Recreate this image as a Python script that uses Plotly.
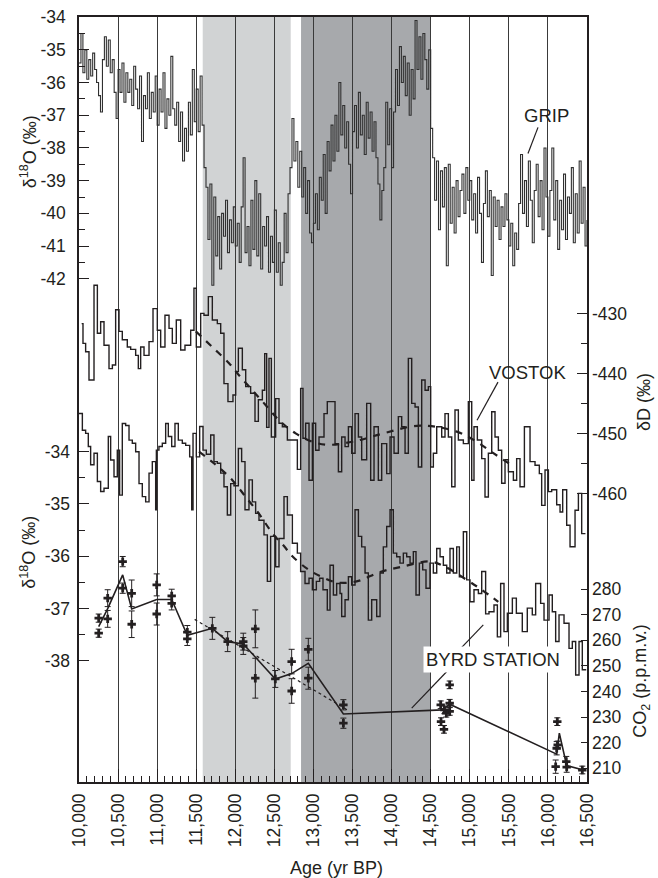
import plotly.graph_objects as go

FONT = "Liberation Sans, Arial, Helvetica, sans-serif"
INK = "#231f20"

# ---------------- data ----------------
# GRIP d18O (permil), 25-yr steps
grip_age = list(range(10000, 16501, 25))
grip_d18o = [
    -35.4, -34.5, -35.7, -35.0, -35.9, -35.3, -35.8, -35.1, -35.6, -36.0, -36.4, -36.9, -35.3, -34.6, -35.5, -34.7, -35.7, -35.3, -36.3, -37.1,
    -35.6, -36.3, -35.4, -36.6, -35.7, -36.3, -35.9, -36.7, -35.5, -36.2, -36.8, -35.8, -37.8, -36.4, -36.8, -35.7, -37.1, -36.3, -36.9, -35.8,
    -37.3, -36.2, -36.9, -35.7, -37.4, -36.5, -37.0, -35.2, -36.8, -37.3, -36.6, -37.8, -36.9, -38.4, -37.4, -38.1, -36.6, -37.6, -35.6, -37.2,
    -36.2, -37.5, -35.8, -37.3, -38.6, -39.2, -40.8, -39.1, -42.2, -39.5, -41.3, -40.1, -41.7, -40.0, -40.7, -39.6, -41.2, -40.2, -40.9, -39.8,
    -41.0, -40.3, -41.5, -39.8, -38.3, -41.2, -40.4, -41.6, -39.6, -41.1, -39.0, -41.3, -39.4, -41.7, -40.4, -41.0, -40.1, -41.8, -40.7, -41.5,
    -39.9, -41.8, -40.9, -42.2, -41.5, -40.0, -41.2, -39.4, -38.6, -37.1, -38.4, -37.8, -39.2, -38.1, -39.5, -38.6, -40.0, -39.0, -40.6, -40.9,
    -40.3, -39.4, -40.5, -38.9, -39.6, -38.2, -40.0, -37.8, -38.7, -37.3, -38.4, -37.0, -38.1, -36.0, -37.6, -36.7, -38.0, -37.2, -38.5, -39.4,
    -37.5, -36.7, -38.0, -36.3, -37.6, -37.0, -38.2, -36.6, -37.7, -36.9, -38.1, -37.2, -38.3, -39.1, -40.2, -39.3, -38.6, -36.6, -37.9, -36.8,
    -38.6, -36.9, -35.6, -36.7, -34.9, -36.0, -35.2, -36.4, -35.4, -37.0, -35.6, -36.5, -34.1, -35.6, -34.6, -35.9, -34.5, -35.3, -36.2, -35.0,
    -37.4, -38.3, -39.6, -38.4, -40.5, -38.7, -39.8, -38.6, -41.6, -38.5, -40.3, -39.2, -40.6, -39.0, -40.1, -39.3, -38.8, -40.0, -38.6, -39.6,
    -39.0, -40.2, -39.4, -40.6, -38.9, -40.0, -41.5, -39.7, -38.7, -40.1, -39.3, -41.9, -39.5, -40.4, -39.6, -40.8, -39.8, -40.4, -39.4, -40.2,
    -41.0, -40.3, -41.6, -40.6, -41.1, -39.7, -38.2, -40.0, -39.0, -40.4, -38.4, -39.6, -40.9, -39.3, -38.5, -40.1, -39.0, -40.5, -38.0, -39.5,
    -40.7, -39.3, -38.0, -40.2, -39.0, -41.1, -39.6, -40.5, -38.8, -40.8, -39.5, -40.0, -38.6, -40.9, -39.4, -40.6, -38.4, -40.3, -39.2, -41.0, -40.2,
]

# Vostok dD (permil)
vostok_age = [10034, 10051, 10085, 10128, 10192, 10235, 10277, 10320, 10384, 10427,
              10469, 10512, 10554, 10618, 10661, 10725, 10759, 10789, 10832, 10896,
              10947, 11002, 11045, 11100, 11152, 11194, 11245, 11301, 11356, 11429,
              11471, 11501, 11557, 11599, 11655, 11706, 11770, 11813, 11855, 11906,
              11970, 12005, 12039, 12090, 12133, 12196, 12252, 12295, 12346, 12376,
              12401, 12431, 12461, 12516, 12559, 12602, 12666, 12794, 12836, 12866,
              12900, 12943, 12986, 13028, 13071, 13135, 13177, 13276, 13319, 13361,
              13404, 13447, 13489, 13532, 13575, 13617, 13681, 13732, 13775, 13830,
              13873, 13937, 13980, 14031, 14086, 14129, 14172, 14214, 14257, 14300,
              14342, 14385, 14428, 14470, 14500, 14534, 14577, 14641, 14683, 14726,
              14769, 14811, 14854, 14918, 14982, 15025, 15054, 15097, 15153, 15195,
              15238, 15281, 15323, 15366, 15408, 15451, 15494, 15558, 15600, 15643,
              15699, 15771, 15835, 15890, 15920, 15963, 16006, 16048, 16112, 16155,
              16189, 16240, 16283, 16347, 16390, 16432, 16480]
vostok_dD = [-431.7, -435.0, -436.4, -441.1, -425.3, -433.3, -431.4, -435.3, -439.2, -438.6,
             -429.4, -433.0, -434.4, -435.6, -436.0, -437.0, -439.2, -435.6, -437.0, -434.7,
             -429.2, -432.8, -435.6, -430.3, -432.5, -435.0, -431.1, -436.1, -435.3, -432.8,
             -425.8, -435.6, -430.0, -430.3, -427.2, -431.1, -431.7, -433.3, -441.7, -444.7,
             -443.6, -439.7, -435.8, -439.4, -442.2, -443.3, -448.0, -444.4, -442.8, -436.7,
             -449.0, -437.5, -450.6, -444.2, -448.3, -448.9, -451.1, -456.0, -442.5, -450.8,
             -448.3, -457.8, -448.3, -452.8, -450.6, -446.7, -444.7, -451.7, -456.4, -450.6,
             -452.2, -448.9, -453.3, -446.7, -450.6, -454.4, -445.0, -457.8, -448.9, -457.8,
             -451.7, -456.7, -450.6, -453.3, -447.2, -448.9, -453.3, -437.5, -445.0, -445.6,
             -455.6, -441.1, -442.8, -442.2, -455.6, -453.3, -448.9, -450.6, -446.7, -450.6,
             -458.9, -446.1, -451.1, -451.7, -444.7, -457.8, -448.9, -451.1, -454.2, -460.6,
             -453.3, -446.4, -450.6, -452.8, -458.3, -454.4, -456.4, -457.8, -454.2, -458.9,
             -448.9, -454.7, -455.3, -456.7, -462.0, -456.1, -459.7, -459.4, -461.9, -463.1,
             -459.4, -465.3, -468.9, -462.8, -460.0, -466.7, -466.7]
vostok_trend_age = [11495, 11705, 11920, 12047, 12218, 12390, 12560, 12772, 12985, 13212,
                    13596, 13894, 14363, 14833, 15089, 15302, 15500]
vostok_trend_dD = [-433.0, -435.6, -438.3, -440.3, -442.8, -445.3, -447.8, -450.0, -451.4, -451.9,
                   -451.1, -450.0, -448.7, -449.7, -451.4, -453.3, -455.0]

# Byrd Station d18O (permil)
byrd_age = [10000, 10043, 10085, 10119, 10149, 10192, 10235, 10277, 10320, 10375,
            10405, 10448, 10490, 10520, 10554, 10597, 10640, 10682, 10725, 10768,
            10810, 10853, 10896, 10938, 10981, 10990, 11023, 11066, 11109, 11143,
            11186, 11228, 11271, 11322, 11365, 11416, 11442, 11459, 11501, 11544,
            11587, 11629, 11685, 11727, 11770, 11813, 11855, 11898, 11941, 11983,
            12039, 12081, 12124, 12175, 12218, 12260, 12303, 12367, 12410, 12452,
            12516, 12559, 12623, 12666, 12730, 12794, 12836, 12892, 12943, 12986,
            13037, 13079, 13122, 13177, 13212, 13255, 13297, 13340, 13361, 13404,
            13447, 13489, 13532, 13575, 13617, 13660, 13702, 13745, 13809, 13852,
            13894, 13937, 13980, 14022, 14065, 14107, 14150, 14193, 14236, 14278,
            14312, 14355, 14398, 14440, 14491, 14534, 14577, 14620, 14662, 14705,
            14747, 14790, 14833, 14867, 14918, 14961, 15003, 15054, 15110, 15153,
            15203, 15246, 15310, 15353, 15395, 15438, 15481, 15545, 15596, 15672,
            15736, 15800, 15843, 15907, 15950, 16014, 16056, 16099, 16142, 16206,
            16270, 16312, 16355, 16398, 16440, 16490]
byrd_d18o = [-33.27, -33.59, -33.65, -33.90, -34.25, -34.03, -34.57, -34.76, -34.70, -33.71,
             -34.16, -34.48, -33.97, -34.83, -33.46, -33.50, -33.78, -33.84, -34.00, -34.61,
             -34.86, -34.96, -34.41, -34.19, -35.11, -33.97, -33.90, -33.84, -33.46, -33.71,
             -33.90, -33.46, -33.78, -33.84, -33.88, -34.10, -35.11, -33.65, -34.10, -33.52,
             -33.97, -34.05, -33.68, -34.19, -34.22, -34.41, -34.67, -35.21, -34.61, -34.65,
             -33.94, -34.19, -35.11, -34.54, -34.96, -35.18, -35.31, -35.59, -36.48, -35.62,
             -36.20, -35.66, -34.86, -35.21, -35.75, -35.94, -36.29, -36.52, -36.42, -36.64,
             -36.48, -36.42, -36.64, -37.03, -36.17, -36.74, -36.52, -36.71, -37.15, -36.83,
             -36.39, -36.55, -35.11, -35.62, -35.82, -36.32, -37.22, -36.83, -37.15, -36.32,
             -35.82, -35.43, -35.11, -35.94, -36.01, -36.13, -35.94, -36.01, -36.13, -35.91,
             -36.74, -36.13, -36.26, -36.61, -36.13, -36.32, -35.85, -36.01, -36.17, -36.32,
             -35.85, -36.32, -35.82, -36.39, -35.53, -36.45, -36.87, -36.64, -36.71, -36.29,
             -37.10, -37.06, -36.93, -37.54, -36.52, -37.44, -37.09, -36.80, -37.09, -37.44,
             -36.99, -37.12, -36.52, -36.90, -37.22, -36.74, -37.06, -37.63, -37.12, -37.28,
             -37.76, -37.63, -38.27, -37.63, -38.17, -38.17]
byrd_trend_age = [11535, 11750, 11960, 12130, 12300, 12475, 12620, 12730, 12940, 13115,
                  13300, 13553, 13852, 14130, 14491, 14683, 14960, 15153, 15365]
byrd_trend_d18o = [-34.00, -34.25, -34.54, -34.86, -35.18, -35.56, -35.80, -36.00, -36.26, -36.40,
                   -36.50, -36.48, -36.30, -36.20, -36.10, -36.20, -36.45, -36.64, -36.87]

# Byrd Station CO2 (p.p.m.v.)
co2_age = [10252, 10252, 10367, 10367, 10559, 10559, 10674, 10674, 10994, 10994,
           11186, 11186, 11386, 11386, 11706, 11902, 12102, 12102, 12256, 12256,
           12512, 12721, 12721, 12934, 12934, 13383, 13383, 14628, 14632, 14670,
           14675, 14700, 14743, 14743, 14743, 16099, 16112, 16120, 16125, 16235,
           16240, 16440]
co2_ppmv = [262.8, 268.7, 276.5, 268.4, 290.8, 280.4, 278.4, 266.3, 281.7, 270.3,
            277.4, 274.5, 263.2, 260.6, 264.7, 259.5, 259.5, 257.8, 264.5, 245.2,
            244.9, 251.7, 240.2, 256.5, 245.2, 234.8, 227.6, 234.8, 228.2, 225.2,
            232.8, 231.5, 235.4, 232.2, 242.6, 210.6, 217.8, 228.2, 219.1, 212.6,
            210.4, 209.3]
co2_err = [1.6, 1.6, 3.3, 3.3, 2.0, 2.0, 5.2, 5.2, 4.3, 4.3,
           2.6, 2.6, 2.6, 2.6, 4.3, 3.9, 3.3, 3.3, 7.4, 7.8,
           3.3, 4.8, 4.8, 4.3, 4.3, 2.0, 2.0, 1.5, 1.5, 1.5,
           1.5, 1.5, 1.5, 1.5, 1.5, 2.6, 2.6, 1.5, 1.5, 2.0,
           2.0, 1.5]
co2_mean_age = [10252, 10367, 10559, 10674, 10994, 11186, 11386, 11706, 11902, 12102,
                12512, 12721, 12934, 13383, 14650, 14743, 16112, 16146, 16240, 16453]
co2_mean_ppmv = [265.4, 272.4, 285.6, 272.3, 276.0, 276.0, 262.0, 264.7, 259.5, 258.6,
                 244.9, 247.0, 251.0, 231.2, 232.8, 235.0, 215.5, 223.7, 211.0, 209.3]
co2_trend_age = [11480, 13450]
co2_trend_ppmv = [268.2, 232.5]

# shaded intervals (yr BP)
light_span = (11583, 12709)
dark_span = (12841, 14500)

# tick labels
x_ticks = list(range(10000, 16501, 500))
x_ticktext = [f"{v:,}" for v in x_ticks]
grip_ticks = [-34, -35, -36, -37, -38, -39, -40, -41, -42]
vostok_ticks = [-430, -440, -450, -460]
byrd_ticks = [-34, -35, -36, -37, -38]
co2_ticks = [210, 220, 230, 240, 250, 260, 270, 280]


def hy(vals):
    return [str(v) for v in vals]


# ---------------- figure ----------------
fig = go.Figure()

fig.add_trace(go.Scatter(x=grip_age, y=grip_d18o, mode="lines", yaxis="y",
                         line=dict(shape="hv", color="#303030", width=1.1), hoverinfo="skip"))
fig.add_trace(go.Scatter(x=vostok_age, y=vostok_dD, mode="lines", yaxis="y2",
                         line=dict(shape="hv", color=INK, width=1.4), hoverinfo="skip"))
fig.add_trace(go.Scatter(x=vostok_trend_age, y=vostok_trend_dD, mode="lines", yaxis="y2",
                         line=dict(shape="spline", color=INK, width=2.2, dash="7px,7px"), hoverinfo="skip"))
fig.add_trace(go.Scatter(x=byrd_age, y=byrd_d18o, mode="lines", yaxis="y3",
                         line=dict(shape="hv", color=INK, width=1.4), hoverinfo="skip"))
fig.add_trace(go.Scatter(x=byrd_trend_age, y=byrd_trend_d18o, mode="lines", yaxis="y3",
                         line=dict(shape="spline", color=INK, width=2.2, dash="7px,7px"), hoverinfo="skip"))
fig.add_trace(go.Scatter(x=co2_trend_age, y=co2_trend_ppmv, mode="lines", yaxis="y4",
                         line=dict(color=INK, width=1.2, dash="dot"), hoverinfo="skip"))
fig.add_trace(go.Scatter(x=co2_mean_age, y=co2_mean_ppmv, mode="lines", yaxis="y4",
                         line=dict(color=INK, width=1.6), hoverinfo="skip"))
fig.add_trace(go.Scatter(x=co2_age, y=co2_ppmv, mode="markers", yaxis="y4",
                         marker=dict(symbol="cross", size=7, color=INK),
                         error_y=dict(type="data", array=co2_err, thickness=1, width=3, color=INK),
                         hoverinfo="skip"))

# shaded bands
for (x0, x1), col in ((light_span, "#d1d3d4"), (dark_span, "#a7a9ac")):
    fig.add_shape(type="rect", xref="x", yref="paper", x0=x0, x1=x1, y0=0, y1=1,
                  fillcolor=col, line_width=0, layer="below")

# label leader lines (data coordinates of the relevant axes)
leaders = [
    ("y", 15873, -37.37, 15745, -38.17),
    ("y2", 15361, -441.45, 15093, -447.8),
    ("y3", 15173, -37.31, 14897, -37.74),
    ("y4", 14725, 248.4, 14257, 233.5),
]
for yref, xa, ya, xb, yb in leaders:
    fig.add_shape(type="line", xref="x", yref=yref, x0=xa, y0=ya, x1=xb, y1=yb,
                  line=dict(color=INK, width=1.2))

tick_font = dict(family=FONT, size=17.5, color=INK)
lab_font = dict(family=FONT, size=18.5, color=INK)
ctr = dict(showarrow=False, xanchor="center", yanchor="middle")

fig.add_annotation(x=15984, y=-37.0, xref="x", yref="y", text="GRIP", font=lab_font, **ctr)
fig.add_annotation(x=15745, y=-439.8, xref="x", yref="y2", text="VOSTOK", font=lab_font, **ctr)
fig.add_annotation(x=15294, y=252.4, xref="x", yref="y4", text="BYRD STATION",
                   bgcolor="white", borderpad=2, font=lab_font, **ctr)

# axis titles
title_font = dict(family=FONT, size=18, color=INK)
fig.add_annotation(x=-0.1, y=0.8235, xref="paper", yref="paper", textangle=-90,
                   text="δ<sup>18</sup>O (‰)", font=title_font, **ctr)
fig.add_annotation(x=-0.1, y=0.30, xref="paper", yref="paper", textangle=-90,
                   text="δ<sup>18</sup>O (‰)", font=title_font, **ctr)
fig.add_annotation(x=1.112, y=0.4967, xref="paper", yref="paper", textangle=-90,
                   text="δD (‰)", font=title_font, **ctr)
fig.add_annotation(x=1.106, y=0.132, xref="paper", yref="paper", textangle=-90,
                   text="CO<sub>2</sub> (p.p.m.v.)", font=title_font, **ctr)
fig.add_annotation(x=0.506, y=-0.1124, xref="paper", yref="paper",
                   text="Age (yr BP)", font=title_font, **ctr)

common_y = dict(showgrid=False, zeroline=False, ticks="inside", tickcolor=INK, tickwidth=1,
                tickfont=tick_font, tickmode="array", fixedrange=True, automargin=False)

fig.update_layout(
    width=658, height=878, autosize=False,
    margin=dict(l=79, r=71, t=17, b=96, autoexpand=False),
    paper_bgcolor="white", plot_bgcolor="white",
    showlegend=False,
    font=dict(family=FONT, color=INK),
    xaxis=dict(range=[10000, 16500], tickmode="array", tickvals=x_ticks, ticktext=x_ticktext,
               tickangle=-90, ticks="inside", ticklen=13, tickwidth=1, tickcolor=INK,
               minor=dict(dtick=100, tick0=10000, ticks="inside", ticklen=6, tickwidth=1,
                          tickcolor=INK, showgrid=False),
               showgrid=True, gridcolor="#3a3a3a", gridwidth=1,
               showline=True, linecolor=INK, linewidth=1.6, mirror=True, zeroline=False,
               tickfont=tick_font, ticklabelstandoff=3, automargin=False, fixedrange=True),
    yaxis=dict(range=[-57.389, -33.995], tickvals=grip_ticks, ticktext=hy(grip_ticks), ticklen=10,
               minor=dict(tickvals=[-34.5, -35.5, -36.5, -37.5, -38.5, -39.5, -40.5, -41.5],
                          ticks="inside", ticklen=6, tickcolor=INK),
               showline=True, linecolor=INK, linewidth=1.8, mirror=True, ticklabelstandoff=8,
               **common_y),
    yaxis2=dict(range=[-508.1, -380.6], tickvals=vostok_ticks, ticktext=hy(vostok_ticks), ticklen=10,
                minor=dict(tickvals=[-435, -445, -455], ticks="inside", ticklen=6, tickcolor=INK),
                overlaying="y", side="right", anchor="x", showline=False, ticklabelstandoff=4,
                **common_y),
    yaxis3=dict(range=[-40.315, -25.69], tickvals=byrd_ticks, ticktext=hy(byrd_ticks), ticklen=10,
                minor=dict(tickvals=[-34.5, -35.5, -36.5, -37.5], ticks="inside", ticklen=6, tickcolor=INK),
                overlaying="y", side="left", anchor="x", showline=False, ticklabelstandoff=8,
                **common_y),
    yaxis4=dict(range=[204.6, 503.8], tickvals=co2_ticks, ticktext=hy(co2_ticks), ticklen=6,
                overlaying="y", side="right", anchor="x", showline=False, ticklabelstandoff=4,
                **common_y),
)

fig.write_html("out.html", config={"displayModeBar": False, "staticPlot": True},
               post_script="document.body.style.margin='0';document.body.style.padding='0';")
